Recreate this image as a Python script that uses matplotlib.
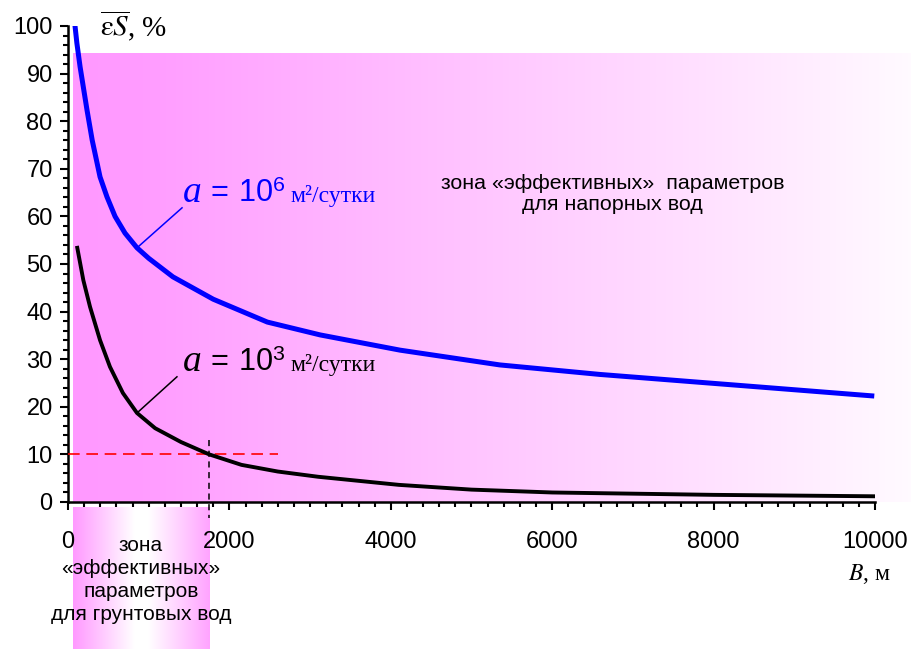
import numpy as np
import matplotlib
matplotlib.use('Agg')
import matplotlib.pyplot as plt
from matplotlib.colors import LinearSegmentedColormap
from matplotlib.offsetbox import TextArea, HPacker, AnnotationBbox
from matplotlib.ticker import MultipleLocator

plt.rcParams['font.family'] = ['Liberation Sans', 'DejaVu Sans']
plt.rcParams['mathtext.fontset'] = 'custom'
plt.rcParams['mathtext.rm'] = 'Liberation Sans'
plt.rcParams['mathtext.it'] = 'Liberation Serif:italic'

# Данные -----------------------------------------------------------------------
# a = 10^6 м2/сутки
blue_x = [87, 110, 150, 235, 300, 397, 483, 583, 706, 855, 1000, 1300, 1800, 2470, 3125, 4115, 5350, 6590, 8240, 9960]
blue_y = [100, 96.4, 91.4, 82.4, 76.0, 68.3, 64.1, 60.0, 56.5, 53.4, 51.2, 47.3, 42.6, 37.8, 35.1, 31.9, 28.8, 26.8, 24.6, 22.3]
# a = 10^3 м2/сутки
black_x = [115, 190, 273, 397, 520, 680, 855, 1080, 1400, 1750, 2150, 2600, 3100, 4100, 5000, 6000, 8000, 10000]
black_y = [53.4, 46.6, 41.0, 34.0, 28.4, 22.9, 18.7, 15.5, 12.6, 10.0, 7.8, 6.4, 5.3, 3.6, 2.6, 2.0, 1.5, 1.2]

threshold = 10      # порог 10 %
x_cross = 1750      # B, при котором кривая 10^3 пересекает порог
red_end = 2600      # конец красной пунктирной линии

x_ticks = [0, 2000, 4000, 6000, 8000, 10000]
y_ticks = [0, 10, 20, 30, 40, 50, 60, 70, 80, 90, 100]

ground_lines = ['зона', '«эффективных»', 'параметров', 'для грунтовых вод']

# Рисунок ----------------------------------------------------------------------
fig = plt.figure(figsize=(9.12, 6.49), dpi=100)
ax = fig.add_axes([68 / 912, 147 / 649, 807 / 912, 476 / 649])

# фон: зона эффективных параметров для напорных вод
top_cmap = LinearSegmentedColormap.from_list('top', [(0, '#FF99FF'), (0.08, '#FF9CFF'), (1, '#FFFAFF')])
ax.imshow(np.linspace(0, 1, 256).reshape(1, -1), extent=(60, 10460, 0, 94.3), aspect='auto',
          cmap=top_cmap, clip_on=False, zorder=0, interpolation='bilinear')
# зона эффективных параметров для грунтовых вод (под осью)
low_cmap = LinearSegmentedColormap.from_list('low', [(0, '#FF99FF'), (0.45, '#FFFFFF'), (0.55, '#FFFFFF'), (1, '#FFA3FF')])
ax.imshow(np.linspace(0, 1, 256).reshape(1, -1), extent=(60, x_cross, -31, -1.2), aspect='auto',
          cmap=low_cmap, clip_on=False, zorder=0, interpolation='bilinear')

# кривые
ax.plot(blue_x, blue_y, color='#0000FF', lw=3.6, solid_joinstyle='round', zorder=4)
ax.plot(black_x, black_y, color='black', lw=2.8, solid_joinstyle='round', zorder=4)

# пороговые линии
ax.plot([0, red_end], [threshold, threshold], color='#FF0000', lw=1.2, dashes=(7, 4), zorder=3)
ax.plot([x_cross, x_cross], [threshold + 3, -3.3], color='black', lw=1.1, dashes=(4, 3), clip_on=False, zorder=3)


def rate_label(power, color):
    parts = [
        TextArea('a', textprops=dict(family='Liberation Serif', style='italic', size=27, color=color)),
        TextArea(r'$=\;10^{%d}$' % power, textprops=dict(size=22, color=color)),
        TextArea('м²/сутки', textprops=dict(family='Liberation Serif', size=17, color=color)),
    ]
    return HPacker(children=parts, align='baseline', pad=0, sep=3)


# подписи кривых с выносками
for px, py, lx, ly, power, color in [(blue_x[9], blue_y[9], 1413, 61.8, 6, '#0000FF'),
                                     (black_x[6], black_y[6], 1350, 26.3, 3, 'black')]:
    ax.plot([px, lx], [py, ly], color=color, lw=1.1, zorder=4)
    ab = AnnotationBbox(rate_label(power, color), (1425, ly - 0.5), xycoords='data',
                        box_alignment=(0, 0), frameon=False, pad=0, annotation_clip=False)
    ax.add_artist(ab)

ax.text(6750, 64.7, 'зона «эффективных»  параметров\nдля напорных вод', ha='center', va='center',
        fontsize=15.4, linespacing=1.1, zorder=5)
# подпись нижней зоны: по строке, шаг ~4.8 % по оси y
for i, line in enumerate(ground_lines):
    ax.text(905, -9.05 - 4.83 * i, line, ha='center', va='center', fontsize=15,
            clip_on=False, zorder=5)

# подписи осей
ax.text(400, 97.9, r'$\overline{\mathrm{\varepsilon}S}$, %', fontsize=21, family='Liberation Serif',
        math_fontfamily='stix', va='baseline', clip_on=False)
ax.text(9665, -16.4, r'$B$, м', fontsize=17, family='Liberation Serif',
        math_fontfamily='stix', va='baseline', clip_on=False)

# оси
ax.set_xlim(0, 10000)
ax.set_ylim(0, 100)
ax.set_xticks(x_ticks)
ax.set_yticks(y_ticks)
ax.xaxis.set_minor_locator(MultipleLocator(200))
ax.yaxis.set_minor_locator(MultipleLocator(2))
ax.tick_params(which='major', length=6, width=1.5, labelsize=17)
ax.tick_params(which='minor', length=3.6, width=1.5)
ax.tick_params(axis='x', which='major', pad=15)
ax.tick_params(axis='y', which='major', pad=5)
for s in ['top', 'right']:
    ax.spines[s].set_visible(False)
for s in ['left', 'bottom']:
    ax.spines[s].set_linewidth(1.8)
ax.patch.set_visible(False)

fig.savefig('out.png', dpi=100)
